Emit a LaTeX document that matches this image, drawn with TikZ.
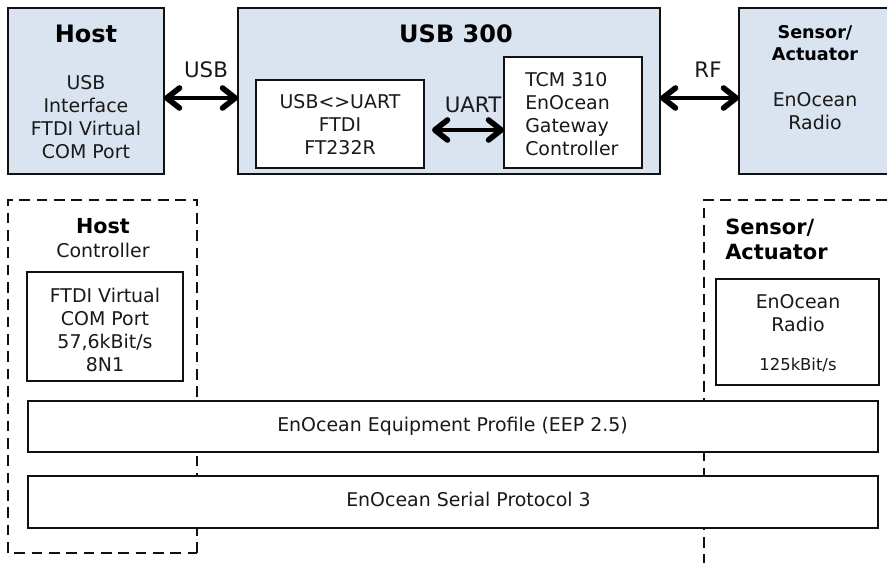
\documentclass[tikz,border=0pt]{standalone}
\usepackage{fontspec}
\setmainfont{DejaVu Sans}
\usetikzlibrary{arrows.meta}
\definecolor{panelblue}{HTML}{DAE3F0}
\definecolor{edgeink}{HTML}{111111}
\def\px{0.75pt}
\tikzset{
  x=0.75pt,y=-0.75pt,
  panel/.style={draw=edgeink,line width=1.7pt,fill=panelblue,anchor=north west,inner sep=0pt,outer sep=0pt},
  inset/.style={draw=edgeink,line width=1.7pt,fill=white,anchor=north west,inner sep=0pt,outer sep=0pt},
  framed/.style={draw=edgeink,line width=2.1pt,dash pattern=on 8pt off 5pt},
  biarrow/.style={draw=black,line width=3.6pt,{Straight Barb[length=9.5pt,width=15pt,line width=4.2pt,round]}-{Straight Barb[length=9.5pt,width=15pt,line width=4.2pt,round]}},
  big/.style={font=\fontsize{18}{20}\selectfont\bfseries,inner sep=0pt,align=center},
  head/.style={font=\fontsize{13.2}{17}\selectfont\bfseries,inner sep=0pt,align=center},
  headb/.style={font=\fontsize{15.7}{18.75}\selectfont\bfseries,inner sep=0pt,align=left},
  body/.style={font=\fontsize{14.2}{17.25}\selectfont,inner sep=0pt,align=center,text=black!90},
  bodyl/.style={font=\fontsize{14.2}{17.25}\selectfont,inner sep=0pt,align=left,text=black!90},
  small/.style={font=\fontsize{12.3}{15}\selectfont,inner sep=0pt,text=black!90},
  wire/.style={font=\fontsize{16}{17}\selectfont,inner sep=0pt,text=black!90},
}
\begin{document}
\begin{tikzpicture}
\useasboundingbox (0,0) rectangle (887,563);
\fill[white] (0,0) rectangle (887,563);
% upper row
\node[panel,minimum width=156*\px,minimum height=166*\px] (host) at (8,8) {};
\node[panel,minimum width=422*\px,minimum height=166*\px] (usb) at (238,8) {};
\node[panel,minimum width=160*\px,minimum height=166*\px] (sensor) at (739,8) {};
\node[inset,minimum width=168*\px,minimum height=88*\px] (ftdi) at (256,80) {};
\node[inset,minimum width=138*\px,minimum height=111*\px] (tcm) at (504,57) {};
\node[big] (hosttitle) at (86,34) {Host};
\node[body] (hostbody) at (86,117) {USB\\Interface\\FTDI Virtual\\COM Port};
\node[big] (usbtitle) at (456,34) {USB 300};
\node[body] (ftditext) at (340,125) {USB<>UART\\FTDI\\FT232R};
\node[bodyl,anchor=west] (tcmtext) at (525,114) {TCM 310\\EnOcean\\Gateway\\Controller};
\node[head] (sensortitle) at (815,43) {Sensor/\\Actuator};
\node[body] (sensorbody) at (815,111) {EnOcean\\Radio};
\node[wire] (usblabel) at (206,70) {USB};
\node[wire] (uartlabel) at (473,105) {UART};
\node[wire] (rflabel) at (708,70) {RF};
\draw[biarrow] ([yshift=-5.25pt]host.east) -- ([yshift=-5.25pt]usb.west);
\draw[biarrow] ([xshift=6pt,yshift=-4.5pt]ftdi.east) -- ([yshift=-4.5pt]ftdi.east -| tcm.west);
\draw[biarrow] ([yshift=-5.25pt]usb.east) -- ([yshift=-5.25pt]sensor.west);
% dashed frames
\draw[framed] (197,553) -- (197,200) -- (8,200) -- (8,553) -- cycle;
\draw[framed] (887,200) -- (704,200) -- (704,563);
% lower row
\node[inset,minimum width=156*\px,minimum height=109*\px] (vcp) at (27,272) {};
\node[inset,minimum width=163*\px,minimum height=106*\px] (radio) at (716,279) {};
\node[inset,minimum width=850*\px,minimum height=51*\px] (eep) at (28,401) {};
\node[inset,minimum width=850*\px,minimum height=52*\px] (esp) at (28,476) {};
\node[big,font=\fontsize{15.5}{18}\selectfont\bfseries] (lowhost) at (103,226) {Host};
\node[body] (controller) at (103,250) {Controller};
\node[body] (vcptext) at (105,330) {FTDI Virtual\\COM Port\\57,6kBit/s\\8N1};
\node[headb,anchor=west] (lowsensor) at (725,239.5) {Sensor/\\Actuator};
\node[body] (radiotext) at (798,313) {EnOcean\\Radio};
\node[small] (rate) at (798,365) {125kBit/s};
\node[body] (eeptext) at (452.5,426) {EnOcean Equipment Profile (EEP 2.5)};
\node[body] (esptext) at (468.5,499.5) {EnOcean Serial Protocol 3};
\end{tikzpicture}
\end{document}
